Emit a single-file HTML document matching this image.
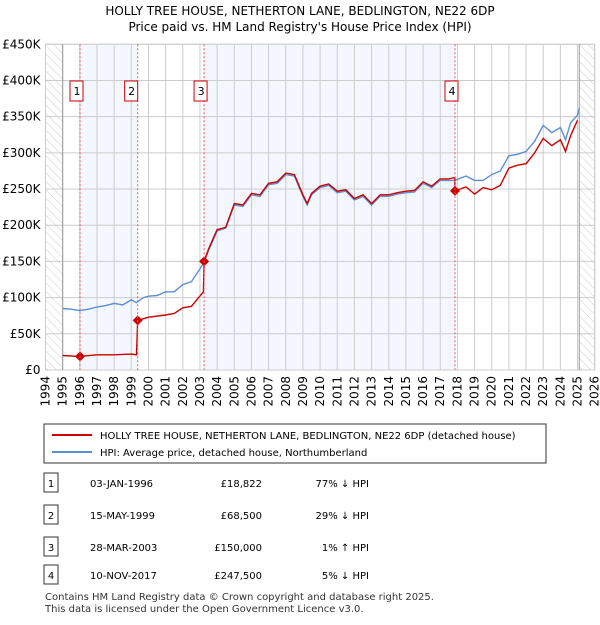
<!DOCTYPE html>
<html><head><meta charset="utf-8"><style>
body{margin:0;background:#fff;font-family:"Liberation Sans","DejaVu Sans",sans-serif;}
svg text{font-family:"DejaVu Sans","Liberation Sans",sans-serif;}
</style></head><body>
<svg id="chart" width="600" height="620" xmlns="http://www.w3.org/2000/svg">
<defs><pattern id="hatch" width="6" height="6" patternUnits="userSpaceOnUse" patternTransform="rotate(-45)"><line x1="0" y1="0" x2="0" y2="6" stroke="#ccc" stroke-width="1"/></pattern></defs>
<text x="300" y="15" text-anchor="middle" font-size="12">HOLLY TREE HOUSE, NETHERTON LANE, BEDLINGTON, NE22 6DP</text>
<text x="300" y="31" text-anchor="middle" font-size="12">Price paid vs. HM Land Registry's House Price Index (HPI)</text>
<g id="bg"></g><g id="grid"></g><g id="series"></g><g id="marks"></g><g id="axes"></g>
<rect x="44" y="424" width="502" height="39" fill="#fff" stroke="#333"/>
<line x1="52" y1="435" x2="92" y2="435" stroke="#cc0000" stroke-width="2"/>
<text x="100" y="439" font-size="10">HOLLY TREE HOUSE, NETHERTON LANE, BEDLINGTON, NE22 6DP (detached house)</text>
<line x1="52" y1="452" x2="92" y2="452" stroke="#5b8fd4" stroke-width="2"/>
<text x="100" y="456" font-size="10">HPI: Average price, detached house, Northumberland</text>
<g font-size="10" id="table"></g>
<text x="45" y="600" font-size="10" fill="#333">Contains HM Land Registry data © Crown copyright and database right 2025.</text>
<text x="45" y="612" font-size="10" fill="#333">This data is licensed under the Open Government Licence v3.0.</text>
</svg>
<script>
const hpiYears=[1995,1995.5,1996,1996.5,1997,1997.5,1998,1998.5,1999,1999.3,1999.7,2000,2000.5,2001,2001.5,2002,2002.5,2003,2003.24,2003.5,2004,2004.5,2005,2005.5,2006,2006.5,2007,2007.5,2008,2008.5,2009,2009.25,2009.5,2010,2010.5,2011,2011.5,2012,2012.5,2013,2013.5,2014,2014.5,2015,2015.5,2016,2016.5,2017,2017.5,2017.86,2018.5,2019,2019.5,2020,2020.5,2021,2021.5,2022,2022.5,2023,2023.5,2024,2024.3,2024.6,2025,2025.1];
const hpiValues=[85,84,82,84,87,89,92,90,97,93,100,102,103,108,108,118,122,140,149,165,192,196,228,226,242,240,256,258,270,268,240,228,242,252,255,245,247,235,240,228,240,240,243,245,246,258,252,262,262,262,268,262,262,270,275,296,298,302,316,338,328,335,318,342,352,362];
const redYears=[1995,1996,1997,1998,1999,1999.3,1999.37,2000,2001,2001.5,2002,2002.5,2003.2,2003.24,2003.5,2004,2004.5,2005,2005.5,2006,2006.5,2007,2007.5,2008,2008.5,2009,2009.25,2009.5,2010,2010.5,2011,2011.5,2012,2012.5,2013,2013.5,2014,2014.5,2015,2015.5,2016,2016.5,2017,2017.5,2017.85,2017.86,2018.5,2019,2019.5,2020,2020.5,2021,2021.5,2022,2022.5,2023,2023.5,2024,2024.3,2024.6,2025,2025.1];
const redValues=[20,18.8,21,21,22,21,68.5,73,76,78,86,88,108,150,167,194,197,230,228,244,242,258,260,272,270,242,230,244,254,257,247,249,237,242,230,242,242,245,247,248,260,254,264,264,266,247.5,253,243,252,249,255,279,283,285,300,320,310,318,302,324,345];
const saleYears=[1996.01,1999.37,2003.24,2017.86];
const salePrices=[18.822,68.5,150,247.5];
const saleLabels=["1","2","3","4"];
const saleDates=["03-JAN-1996","15-MAY-1999","28-MAR-2003","10-NOV-2017"];
const salePriceText=["£18,822","£68,500","£150,000","£247,500"];
const saleHpiText=["77% ↓ HPI","29% ↓ HPI","1% ↑ HPI","5% ↓ HPI"];
const yTicks=[0,50,100,150,200,250,300,350,400,450];
const yTickLabels=["£0","£50K","£100K","£150K","£200K","£250K","£300K","£350K","£400K","£450K"];
const xTicks=[];for(let y=1994;y<=2026;y++)xTicks.push(y);

const NS="http://www.w3.org/2000/svg";
const X0=45.5,X1=594.7,Y0=370,Y1=44.3;
const xs=v=>X0+(v-1994)/32*(X1-X0);
const ys=v=>Y0-v/450*(Y0-Y1);
function mk(parent,tag,attrs){const e=document.createElementNS(NS,tag);for(const k in attrs)e.setAttribute(k,attrs[k]);document.getElementById(parent).appendChild(e);return e;}
let e;
e=mk("bg","rect",{x:X0,y:Y1,width:X1-X0,height:Y0-Y1,fill:"#fff",stroke:"#ccc"});


e=mk("bg","rect",{x:X0,y:Y1,width:xs(1995)-X0,height:Y0-Y1,fill:"url(#hatch)"});


e=mk("bg","rect",{x:xs(2025.1),y:Y1,width:X1-xs(2025.1),height:Y0-Y1,fill:"url(#hatch)"});


[[0,1],[2,3]].forEach(p=>{e=mk("bg","rect",{x:xs(saleYears[p[0]]),y:Y1,width:xs(saleYears[p[1]])-xs(saleYears[p[0]]),height:Y0-Y1,fill:"#f4f7fe"});

});
xTicks.forEach(t=>{e=mk("grid","line",{x1:xs(t),x2:xs(t),y1:Y1,y2:Y0,stroke:"#ccc"});


e=mk("axes","text",{x:0,y:0,"font-size":12,"text-anchor":"end",transform:`translate(${xs(t)+4},${Y0+6}) rotate(-90)`});
e.textContent=t;

});
yTicks.forEach((t,i)=>{e=mk("grid","line",{x1:X0,x2:X1,y1:ys(t),y2:ys(t),stroke:"#ccc"});


e=mk("axes","text",{x:X0-5,y:ys(t)+4,"font-size":12,"text-anchor":"end"});
e.textContent=yTickLabels[i];

});
e=mk("grid","line",{x1:xs(1995),x2:xs(1995),y1:Y1,y2:Y0,stroke:"#999"});


e=mk("grid","line",{x1:xs(2025.1),x2:xs(2025.1),y1:Y1,y2:Y0,stroke:"#999"});


saleYears.forEach((s,i)=>{e=mk("marks","line",{x1:xs(s),x2:xs(s),y1:Y1,y2:Y0,stroke:"#e55",
"stroke-dasharray":"2,2"});


const cx=[xs(s)-3,xs(s)-6,xs(s)-3,xs(s)-3][i];
e=mk("marks","rect",{x:cx-7,y:81,width:13,height:20,fill:"#fff",stroke:"#c00"});


e=mk("marks","text",{x:cx,y:95,"font-size":11,"text-anchor":"middle"});e.textContent=saleLabels[i];

});
function path(xa,va,color,name){const d=xa.map((x,i)=>(i?"L":"M")+xs(x).toFixed(1)+","+ys(va[i]).toFixed(1)).join("");
e=mk("series","path",{d:d,fill:"none",stroke:color,"stroke-width":1.4});

}
path(hpiYears,hpiValues,"#5b8fd4","hpi-line");
path(redYears,redValues,"#cc0000","price-line");
saleYears.forEach((s,i)=>{const x=xs(s),y=ys(salePrices[i]);
e=mk("series","path",{d:`M${x-5},${y}L${x},${y-5}L${x+5},${y}L${x},${y+5}Z`,fill:"#cc0000"});

});
const rowY=[483,515,547,575];
rowY.forEach((ry,i)=>{
e=mk("table","rect",{x:44,y:ry-10,width:14,height:19,fill:"#fff",stroke:"#333"});


e=mk("table","text",{x:51,y:ry+4,"text-anchor":"middle"});e.textContent=saleLabels[i];


e=mk("table","text",{x:90,y:ry+4});e.textContent=saleDates[i];


e=mk("table","text",{x:262,y:ry+4,"text-anchor":"end"});e.textContent=salePriceText[i];


e=mk("table","text",{x:369,y:ry+4,"text-anchor":"end"});e.textContent=saleHpiText[i];

});
</script>
</body></html>
